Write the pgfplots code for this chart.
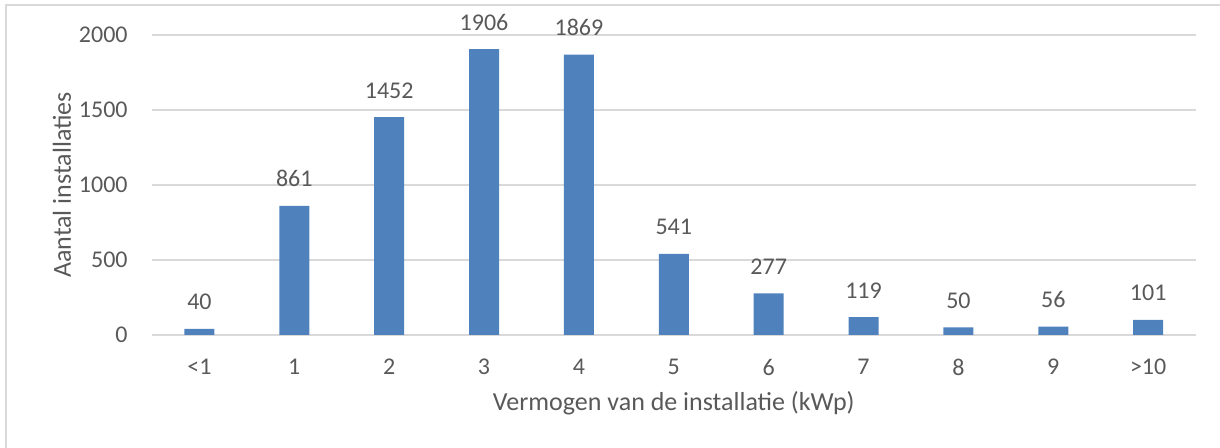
\documentclass[border=0pt]{standalone}
\usepackage{fontspec}
\setmainfont{Carlito}
\usepackage{pgfplots}
\pgfplotsset{compat=1.18}
\definecolor{txt}{HTML}{595959}
\definecolor{grd}{HTML}{D9D9D9}
\definecolor{bar}{HTML}{4F81BD}
\begin{document}
\begin{tikzpicture}
\useasboundingbox (-76pt,-56.5pt) rectangle (534pt,167.5pt);
\draw[grd, line width=1pt] (-72.75pt,-60pt) -- (-72.75pt,164.75pt) -- (540pt,164.75pt);
\begin{axis}[
  at={(0,0)}, anchor=south west,
  scale only axis, width=521.8pt, height=150pt,
  xmin=-0.5, xmax=10.5, ymin=0, ymax=2000,
  clip=false,
  axis line style={draw=none},
  major tick length=0pt,
  ytick={0,500,1000,1500,2000},
  xtick={0,...,10},
  xticklabels={<1,1,2,3,4,5,6,7,8,9,>10},
  ymajorgrids, grid style={grd, line width=0.65pt},
  font=\fontsize{12pt}{14pt}\selectfont,
  /pgf/number format/assume math mode=true,
  /pgf/number format/set thousands separator={},
  scaled y ticks=false,
  ticklabel style={text=txt, font=\fontsize{12pt}{14pt}\selectfont},
  y tick label style={anchor=east, inner sep=0pt, xshift=-12pt},
  x tick label style={anchor=north, inner sep=0pt, yshift=-12pt},
  xlabel={Vermogen van de installatie (kWp)},
  ylabel={Aantal installaties},
  every axis x label/.style={at={(axis description cs:0.5,-0.2533)}, anchor=base, text=txt, font=\fontsize{13pt}{15pt}\selectfont},
  every axis y label/.style={at={(axis description cs:-0.0862,0.5)}, rotate=90, anchor=center, text=txt, font=\fontsize{13pt}{15pt}\selectfont},
]
\addplot[ybar, bar width=15pt, bar shift=0pt, fill=bar, draw=none,
  nodes near coords,
  every node near coord/.style={text=txt, anchor=base, inner sep=0pt, yshift=9.5pt, font=\fontsize{12pt}{14pt}\selectfont}]
  coordinates {(0,40) (1,861) (2,1452) (3,1906) (4,1869) (5,541) (6,277) (7,119) (8,50) (9,56) (10,101)};
\end{axis}
\end{tikzpicture}
\end{document}
